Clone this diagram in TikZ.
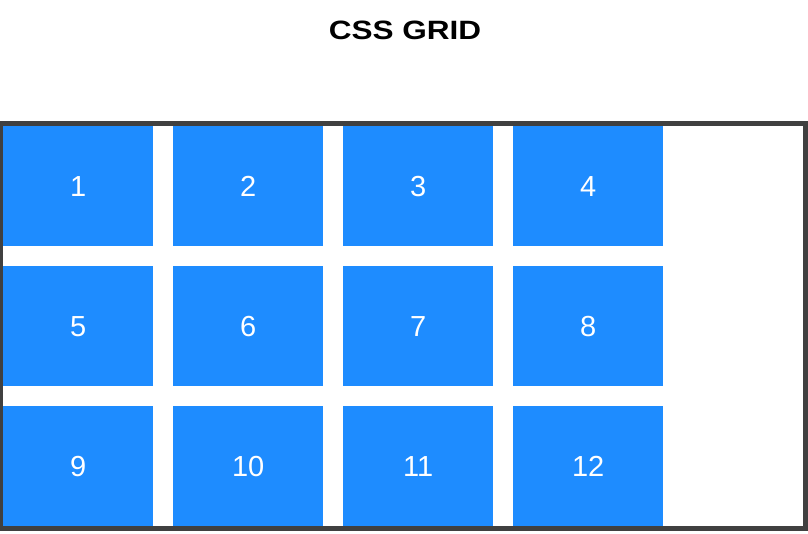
\documentclass[tikz,border=0pt]{standalone}
\usepackage{fontspec}
\setmainfont{Liberation Sans}
\definecolor{cellblue}{RGB}{30,140,255}
\definecolor{framegray}{RGB}{64,64,64}
\begin{document}
\begin{tikzpicture}[x=1pt,y=-1pt,
  cell/.style={fill=cellblue,draw=none,minimum width=150pt,minimum height=120pt,inner sep=0pt,anchor=north west,text=white,font=\fontsize{29}{31}\selectfont},
  frame/.style={draw=framegray,line width=5pt}]
\useasboundingbox (0,0) rectangle (808,533);
\node[font=\bfseries\fontsize{26.5}{30}\selectfont,anchor=base,transform shape,xscale=1.19,inner sep=0pt] (title) at (405,39.3) {CSS GRID};
\draw[frame] (0.5,123.5) rectangle (805.5,528.5);
\foreach \r in {0,1,2}{
  \foreach \c in {0,1,2,3}{
    \pgfmathtruncatemacro{\n}{\r*4+\c+1}
    \node[cell] (c\n) at ({3+170*\c},{126+140*\r}) {\n};
  }
}
\end{tikzpicture}
\end{document}
